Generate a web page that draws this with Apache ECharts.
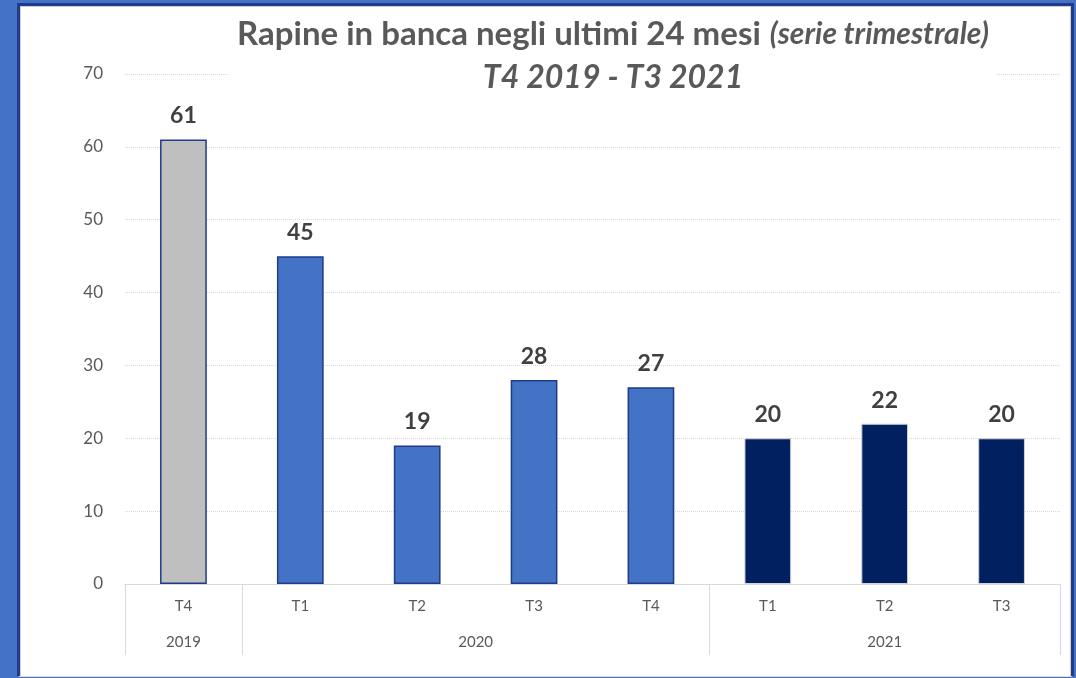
<!DOCTYPE html>
<html>
<head>
<meta charset="utf-8">
<script src="https://cdn.jsdelivr.net/npm/echarts@6/dist/echarts.min.js"></script>
<style>
  html, body { margin: 0; padding: 0; background: #4472C4; overflow: hidden; }
  #frame {
    position: absolute; left: 17px; top: 3px;
    width: 1051px; height: 670px;
    background: #fff;
    border-left: 3px solid #1F3C8C;
    border-top: 3px solid #1F3C8C;
    border-right: 3px solid #1F3C8C;
    border-bottom: 1px solid #dcdcdc;
    box-shadow: inset 1px 1px 0 #d0d0d0, inset -1px 0 0 #d0d0d0;
  }
  #chart { width: 1051px; height: 670px; }
</style>
</head>
<body>
<div id="frame"><div id="chart"></div></div>
<script>
// dati: rapine per trimestre
var quarters = ['T4', 'T1', 'T2', 'T3', 'T4', 'T1', 'T2', 'T3'];
var robberies = [61, 45, 19, 28, 27, 20, 22, 20];
var years = ['2019', '2020', '2021'];
var quartersPerYear = [1, 4, 3];

var yearFill = ['#BFBFBF', '#4472C4', '#002060'];
var yearBorder = ['#1F3C8C', '#1F3C8C', '#cfd3dc'];

// posizioni dei separatori e delle etichette anno
var sepValues = [0];
var yearCenters = [];
quartersPerYear.forEach(function (n, i) {
  var start = sepValues[i];
  sepValues.push(start + n);
  yearCenters.push(start + n / 2);
});

var barData = robberies.map(function (v, i) {
  var yi = 0, acc = 0;
  for (var k = 0; k < quartersPerYear.length; k++) {
    acc += quartersPerYear[k];
    if (i < acc) { yi = k; break; }
  }
  return {
    value: v,
    itemStyle: { color: yearFill[yi], borderColor: yearBorder[yi], borderWidth: yi === 2 ? 1 : 1.5 }
  };
});

var font = 'Lato, "Open Sans", sans-serif';
var chart = echarts.init(document.getElementById('chart'));
chart.setOption({
  animation: false,
  title: {
    left: 585,
    top: 2,
    textAlign: 'center',
    backgroundColor: '#fff',
    padding: [4, 8],
    text: '{a|Rapine in banca negli ultimi 24 mesi} {b|(serie trimestrale)}\n{c|T4 2019 - T3 2021}',
    textStyle: {
      rich: {
        a: { fontFamily: font, fontWeight: 'bold', fontSize: 33, color: '#595959', lineHeight: 44 },
        b: { fontFamily: font, fontStyle: 'italic', fontSize: 30, color: '#595959', lineHeight: 44, padding: [0, 0, 0, 4] },
        c: { fontFamily: font, fontWeight: 'bold', fontStyle: 'italic', fontSize: 32, color: '#595959', lineHeight: 44 }
      }
    }
  },
  grid: { left: 105, right: 11, top: 68, bottom: 92 },
  xAxis: [
    {
      type: 'category',
      data: quarters,
      axisLine: { lineStyle: { color: '#D9D9D9', width: 1 } },
      axisTick: { show: false },
      axisLabel: { color: '#595959', fontFamily: font, fontSize: 15, margin: 15 }
    },
    {
      type: 'value',
      position: 'bottom',
      min: 0,
      max: quarters.length,
      splitLine: { show: false },
      axisLine: { show: true, lineStyle: { color: '#D9D9D9', width: 1 } },
      axisTick: { show: true, customValues: sepValues, length: 71, lineStyle: { color: '#D9D9D9', width: 1 } },
      axisLabel: {
        customValues: yearCenters,
        color: '#595959', fontFamily: font, fontSize: 15, margin: 51,
        formatter: function (v) {
          var i = yearCenters.indexOf(v);
          return i >= 0 ? years[i] : '';
        }
      }
    }
  ],
  yAxis: {
    type: 'value',
    min: 0,
    max: 70,
    interval: 10,
    axisLine: { show: false },
    axisTick: { show: false },
    axisLabel: { color: '#595959', fontFamily: font, fontSize: 17, margin: 22 },
    splitLine: { lineStyle: { color: '#D9D9D9', type: 'dotted', width: 1 } }
  },
  series: [{
    type: 'bar',
    xAxisIndex: 0,
    barWidth: '40%',
    data: barData,
    label: {
      show: true,
      position: 'top',
      distance: 12,
      color: '#404040',
      fontFamily: font,
      fontWeight: 'bold',
      fontSize: 23
    }
  }]
});
</script>
</body>
</html>
